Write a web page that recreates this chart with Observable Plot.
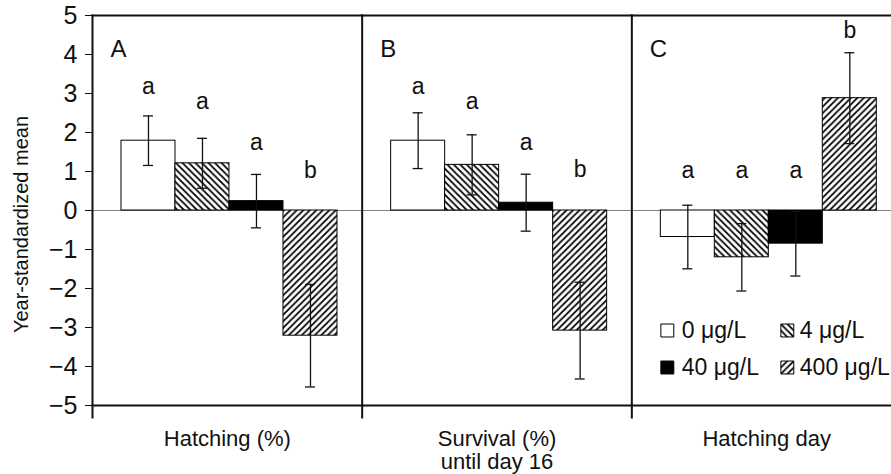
<!DOCTYPE html>
<html><head><meta charset="utf-8">
<script src="https://cdn.jsdelivr.net/npm/d3@7"></script>
<script src="https://cdn.jsdelivr.net/npm/@observablehq/plot@0.6"></script>
<style>
html,body{margin:0;padding:0;background:#fff;overflow:hidden;}
#chart{width:891px;height:474px;overflow:hidden;}
#chart g[aria-label="y-axis tick label"], #chart g[aria-label="y-axis tick label"] text{font-size:25px;}
</style></head><body><div id="chart"></div>
<script>
// ---- data ----
const measures = ["Hatching (%)", "Survival (%)\nuntil day 16", "Hatching day"];
const panelLetters = ["A", "B", "C"];
const concentrations = ["0 μg/L", "4 μg/L", "40 μg/L", "400 μg/L"];
const yTicks = [-5, -4, -3, -2, -1, 0, 1, 2, 3, 4, 5];
const yLabel = "Year-standardized mean";

const hatchingMean = [1.79, 1.21, 0.24, -3.21];
const hatchingSE   = [0.635, 0.64, 0.685, 1.315];
const hatchingSig  = ["a", "a", "a", "b"];
const hatchingSigY = [3.18, 2.78, 1.75, 1.03];

const survivalMean = [1.79, 1.17, 0.20, -3.08];
const survivalSE   = [0.715, 0.77, 0.73, 1.24];
const survivalSig  = ["a", "a", "a", "b"];
const survivalSigY = [3.18, 2.78, 1.75, 1.04];

const hatchDayMean = [-0.68, -1.20, -0.85, 2.88];
const hatchDaySE   = [0.815, 0.865, 0.83, 1.165];
const hatchDaySig  = ["a", "a", "a", "b"];
const hatchDaySigY = [1.01, 1.01, 1.01, 4.6];

const series = [
  {measure: measures[0], mean: hatchingMean, se: hatchingSE, sig: hatchingSig, sigY: hatchingSigY},
  {measure: measures[1], mean: survivalMean, se: survivalSE, sig: survivalSig, sigY: survivalSigY},
  {measure: measures[2], mean: hatchDayMean, se: hatchDaySE, sig: hatchDaySig, sigY: hatchDaySigY}
];
const rows = series.flatMap(s => concentrations.map((c, i) => ({
  measure: s.measure, conc: c, mean: s.mean[i],
  lo: s.mean[i] - s.se[i], hi: s.mean[i] + s.se[i],
  sig: s.sig[i], sigY: s.sigY[i]
})));
const panels = measures.map((m, i) => ({measure: m, letter: panelLetters[i]}));

// ---- chart ----
const font = "'Liberation Sans', Arial, Helvetica, sans-serif";
const FS = 22;
const legendMarks = concentrations.flatMap((c, i) => {
  const col = i % 2, row = Math.floor(i / 2);
  return [
    Plot.dot([c], {fx: () => measures[2], frameAnchor: "bottom-left", dx: 35.5 + col * 120, dy: -75 + row * 37,
      symbol: "square", r: 7.3, fill: d => d, stroke: "black", strokeWidth: 1}),
    Plot.text([c], {fx: () => measures[2], frameAnchor: "bottom-left", dx: 50 + col * 118, dy: -75 + row * 37,
      text: d => d, textAnchor: "start", lineAnchor: "middle", fontSize: 23, fill: "#111"})
  ];
});

const chart = Plot.plot({
  width: 891, height: 474,
  marginLeft: 92, marginRight: -10, marginTop: 15, marginBottom: 69,
  style: {fontFamily: font, fontSize: FS + "px", background: "white", color: "#111"},
  fx: {domain: measures, padding: 0, round: false},
  x: {domain: concentrations, paddingInner: 0, paddingOuter: 0.497, align: 0.54, round: false, axis: null},
  y: {domain: [-5, 5]},
  color: {type: "ordinal", domain: concentrations, range: ["white", "url(#hatchBack)", "black", "url(#hatchFwd)"]},
  marks: [
    Plot.ruleY([0], {stroke: "#808080", strokeWidth: 1}),
    Plot.barY(rows, {fx: "measure", x: "conc", y: "mean", fill: "conc", stroke: "black", strokeWidth: 1}),
    Plot.ruleX(rows, {fx: "measure", x: "conc", y1: "lo", y2: "hi", stroke: "#111", strokeWidth: 1.3}),
    Plot.tickY(rows, {fx: "measure", x: "conc", y: "hi", insetLeft: 22, insetRight: 22, stroke: "#111", strokeWidth: 1.3}),
    Plot.tickY(rows, {fx: "measure", x: "conc", y: "lo", insetLeft: 22, insetRight: 22, stroke: "#111", strokeWidth: 1.3}),
    Plot.text(rows, {fx: "measure", x: "conc", y: "sigY", text: "sig", fontSize: 23, fill: "#111"}),
    Plot.text(panels, {fx: "measure", text: "letter", frameAnchor: "top-left", textAnchor: "start", lineAnchor: "middle", dx: 18, dy: 34, fontSize: 24, fill: "#111"}),
    Plot.frame({anchor: "left", insetBottom: -12, stroke: "#111", strokeWidth: 2}),
    Plot.frame({anchor: "top", stroke: "#111", strokeWidth: 2}),
    Plot.frame({anchor: "bottom", stroke: "#111", strokeWidth: 2}),
    Plot.axisY({ticks: yTicks, tickSize: 7, tickPadding: 8, label: null, fontSize: 25}),
    Plot.axisFx({anchor: "bottom", tickSize: 0, tickPadding: 24, label: null, lineHeight: 1.05, fontSize: FS}),
    Plot.text([yLabel], {fx: () => measures[0], frameAnchor: "left", textAnchor: "middle", rotate: -90, dx: -71, dy: 14, fontSize: 20, fill: "#111"}),
    ...legendMarks
  ]
});

const svg = chart.tagName.toLowerCase() === "svg" ? chart : chart.querySelector("svg");
const defs = d3.select(svg).insert("defs", ":first-child");
function hatch(id, s, d) {
  const p = defs.append("pattern").attr("id", id).attr("patternUnits", "userSpaceOnUse")
    .attr("width", s).attr("height", s);
  p.append("rect").attr("width", s).attr("height", s).attr("fill", "white");
  p.append("path").attr("d", d).attr("stroke", "black").attr("stroke-width", 1.8).attr("fill", "none");
}
const s = 6.5;
hatch("hatchBack", s, `M-1,${s - 1} L1,${s + 1} M0,0 L${s},${s} M${s - 1},-1 L${s + 1},1`);
hatch("hatchFwd", s, `M-1,1 L1,-1 M0,${s} L${s},0 M${s - 1},${s + 1} L${s + 1},${s - 1}`);
document.getElementById("chart").appendChild(chart);
</script>
</body></html>
